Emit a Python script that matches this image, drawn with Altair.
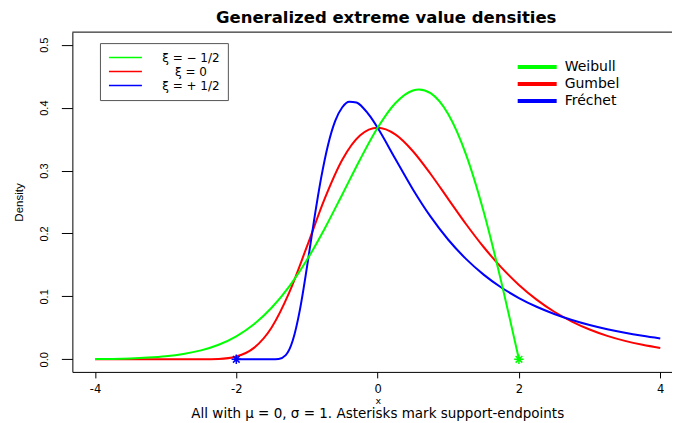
import altair as alt
import pandas as pd

# ---- data ----
xi_labels = ["ξ = − 1/2", "ξ = 0", "ξ = + 1/2"]
kind_labels = ["Weibull", "Gumbel", "Fréchet"]
colors = ["#00ff00", "#ff0000", "#0000ff"]

weib_x = [-4, -3.75, -3.5, -3.25, -3, -2.75, -2.5, -2.25, -2, -1.75, -1.5, -1.25, -1,
          -0.75, -0.5, -0.25, 0, 0.25, 0.5, 0.586, 0.75, 1, 1.25, 1.5, 1.75, 1.875, 2]
weib_y = [0.0004, 0.0007, 0.0014, 0.0027, 0.0048, 0.0084, 0.0142, 0.0232, 0.0366, 0.0557,
          0.0819, 0.1159, 0.1581, 0.2076, 0.2620, 0.3173, 0.3679, 0.4069, 0.4273, 0.4289,
          0.4229, 0.3894, 0.3258, 0.2349, 0.1231, 0.0623, 0.0]

gumb_x = [-4, -3.5, -3, -2.75, -2.5, -2.25, -2, -1.75, -1.5, -1.25, -1, -0.75, -0.5, -0.25,
          0, 0.25, 0.5, 0.75, 1, 1.25, 1.5, 1.75, 2, 2.25, 2.5, 2.75, 3, 3.25, 3.5, 3.75, 4]
gumb_y = [0.0, 0.0, 0.0, 0.0, 0.0001, 0.0007, 0.0046, 0.0182, 0.0507, 0.1064, 0.1794, 0.2549,
          0.3171, 0.3556, 0.3679, 0.3574, 0.3307, 0.2945, 0.2547, 0.2151, 0.1785, 0.1461,
          0.1182, 0.0949, 0.0756, 0.0600, 0.0474, 0.0373, 0.0293, 0.0230, 0.0180]

frec_x = [-2, -1.75, -1.5, -1.4, -1.3, -1.2, -1.1, -1, -0.9, -0.8, -0.7, -0.6, -0.5, -0.4,
          -0.3, -0.2, -0.1, 0, 0.25, 0.5, 0.75, 1, 1.25, 1.5, 1.75, 2, 2.25, 2.5, 2.75, 3,
          3.25, 3.5, 3.75, 4]
frec_y = [0.0, 0.0, 0.0, 0.0006, 0.0066, 0.0302, 0.0786, 0.1465, 0.2205, 0.2879, 0.3415,
          0.3788, 0.4006, 0.4094, 0.4080, 0.3991, 0.3852, 0.3679, 0.3187, 0.2700, 0.2267,
          0.1900, 0.1596, 0.1346, 0.1141, 0.0974, 0.0835, 0.0721, 0.0625, 0.0545, 0.0478,
          0.0421, 0.0373, 0.0331]

end_x = [2, -2]
end_y = [0.0, 0.0]
end_xi = ["ξ = − 1/2", "ξ = + 1/2"]

x_ticks = [-4, -2, 0, 2, 4]
y_ticks = [0.0, 0.1, 0.2, 0.3, 0.4, 0.5]

title_text = "Generalized extreme value densities"
note_text = "All with μ = 0, σ = 1. Asterisks mark support-endpoints"


def frame(xs, ys, xi, kind):
    return pd.DataFrame({"x": xs, "y": ys, "xi": xi, "kind": kind})


df_w = frame(weib_x, weib_y, xi_labels[0], kind_labels[0])
df_g = frame(gumb_x, gumb_y, xi_labels[1], kind_labels[1])
df_f = frame(frec_x, frec_y, xi_labels[2], kind_labels[2])
df_all = pd.concat([df_w, df_g, df_f], ignore_index=True)
df_end = pd.DataFrame({"x": end_x, "y": end_y, "xi": end_xi})
df_note = pd.DataFrame({"t": [note_text]})

W, H = 600, 340
xscale = alt.Scale(domain=[-4.32, 4.166], nice=False, zero=False)
yscale = alt.Scale(domain=[-0.02, 0.52], nice=False, zero=False)

xenc = alt.X("x:Q", scale=xscale, axis=alt.Axis(
    values=x_ticks, tickSize=6, labelFont="DejaVu Sans", labelFontSize=11.5,
    labelPadding=6, labelColor="black", domainColor="black", tickColor="black",
    labelExpr="datum.value < 0 ? '-' + abs(datum.value) : '' + datum.value",
    grid=False, title="x", titleFont="DejaVu Sans", titleFontSize=9.5,
    titleFontWeight="normal", titleX=305.6, titleY=32, titleBaseline="alphabetic",
    titleAlign="center", titleColor="black"))
yenc = alt.Y("y:Q", scale=yscale, axis=alt.Axis(
    values=y_ticks, format=".1f", tickSize=11, labelAngle=270, labelAlign="center",
    labelBaseline="alphabetic", labelPadding=14, labelFont="Liberation Sans",
    labelFontSize=11, labelColor="black", domainColor="black", tickColor="black",
    grid=False, title="Density", titleFont="Liberation Sans", titleFontSize=11.5,
    titleFontWeight="normal", titleAngle=270, titleX=-50, titleY=170,
    titleAlign="center", titleBaseline="alphabetic", titleColor="black"))

color_scale = alt.Scale(domain=xi_labels, range=colors)
color_legend = alt.Legend(
    orient="none", legendX=27.6, legendY=11, title=None, symbolType="stroke",
    symbolSize=1089, symbolStrokeWidth=1.5, symbolOpacity=1, labelFont="DejaVu Sans",
    labelFontSize=12, labelColor="black", labelAlign="center", labelOffset=48,
    strokeColor="#555555", padding=8, rowPadding=1, clipHeight=13)


def curve(df):
    return alt.Chart(df).mark_line(strokeWidth=2, interpolate="monotone").encode(
        x=xenc, y=yenc,
        color=alt.Color("xi:N", scale=color_scale, legend=color_legend))


red = curve(df_g)
blue = curve(df_f)
green = curve(df_w)

kind_legend = alt.Legend(
    orient="none", legendX=443.6, legendY=26.5, title=None, symbolType="stroke",
    symbolSize=1521, symbolStrokeWidth=4, symbolOpacity=1, labelFont="DejaVu Sans",
    labelFontSize=14, labelColor="black", labelOffset=6, padding=0, rowPadding=-0.5,
    clipHeight=17)

dummy = alt.Chart(df_all).mark_line(opacity=0).encode(
    x=alt.X("x:Q", scale=xscale), y=alt.Y("y:Q", scale=yscale),
    stroke=alt.Stroke("kind:N", scale=alt.Scale(domain=kind_labels, range=colors),
                      legend=kind_legend),
    detail="kind:N")

asterisk = "M-1,0L1,0M0,-1L0,1M-0.7,-0.7L0.7,0.7M-0.7,0.7L0.7,-0.7"
ends = alt.Chart(df_end).mark_point(shape=asterisk, filled=False, size=90,
                                    strokeWidth=1.5, opacity=1).encode(
    x=alt.X("x:Q", scale=xscale), y=alt.Y("y:Q", scale=yscale),
    stroke=alt.Stroke("xi:N", scale=alt.Scale(domain=xi_labels, range=colors), legend=None))

top_rule = alt.Chart(df_note).mark_rule(color="black", strokeWidth=1).encode(
    x=alt.value(0), x2=alt.value(W), y=alt.value(0))

note = alt.Chart(df_note).mark_text(font="DejaVu Sans", fontSize=13.5, color="black",
                                    align="center", baseline="alphabetic").encode(
    x=alt.value(305.6), y=alt.value(386.5), text="t:N")

chart = alt.layer(dummy, red, blue, green, ends, top_rule, note).resolve_scale(
    stroke="independent"
).properties(
    width=W, height=H,
    title=alt.TitleParams(title_text, font="DejaVu Sans", fontSize=16.5, fontWeight="bold",
                          color="black", anchor="middle", dx=14, offset=5),
    autosize=alt.AutoSizeParams(type="none"),
    padding={"left": 64.4, "top": 24, "right": 0, "bottom": 49},
).configure_view(stroke=None)

chart.save("out.html", embed_options={"renderer": "svg", "actions": False})
